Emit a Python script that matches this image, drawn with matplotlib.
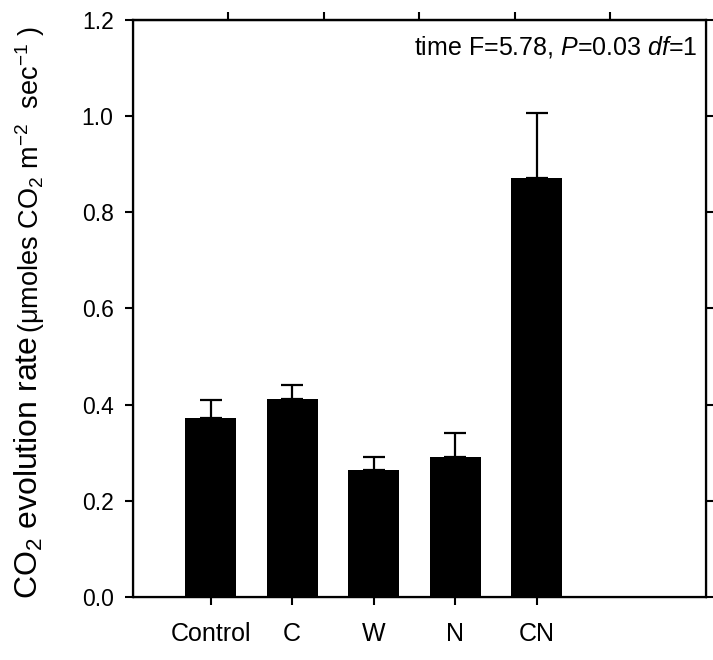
import numpy as np
import matplotlib
matplotlib.use('Agg')
import matplotlib.pyplot as plt

plt.rcParams['font.family'] = ['Liberation Sans', 'DejaVu Sans']
plt.rcParams['mathtext.fontset'] = 'custom'
plt.rcParams['mathtext.rm'] = 'Liberation Sans'
plt.rcParams['mathtext.it'] = 'Liberation Sans:italic'
plt.rcParams['mathtext.default'] = 'regular'

# data
treatments = ['Control', 'C', 'W', 'N', 'CN']
co2_rate = [0.372, 0.412, 0.264, 0.292, 0.871]
co2_se = [0.038, 0.028, 0.026, 0.049, 0.136]
y_ticks = [0.0, 0.2, 0.4, 0.6, 0.8, 1.0, 1.2]

fig = plt.figure(figsize=(7.13, 6.6), dpi=100)
ax = fig.add_axes([0.1865, 0.0955, 0.8035, 0.8745])

x = np.arange(len(treatments))
ax.bar(x, co2_rate, width=0.625, color='black', zorder=2)
ax.errorbar(x, co2_rate, yerr=[np.zeros(len(co2_se)), co2_se], fmt='none',
            ecolor='black', elinewidth=1.6, capsize=8, capthick=1.6, zorder=1)

ax.set_xlim(-0.95, 6.07)
ax.set_ylim(0, 1.2)
ax.set_xticks(x)
ax.set_xticklabels(treatments, fontsize=18)
ax.set_yticks(y_ticks)
ax.set_yticklabels(['%.1f' % v for v in y_ticks], fontsize=16.5)
ax.tick_params(direction='out', length=6, width=1.5, pad=8)
ax.tick_params(axis='x', pad=12)
for s in ax.spines.values():
    s.set_linewidth(1.6)

# mirrored ticks on top (evenly spaced) and right
ax_top = ax.twiny()
ax_top.set_xlim(0, 6)
ax_top.set_xticks([1, 2, 3, 4, 5])
ax_top.tick_params(axis='x', direction='out', length=6, width=1.5, labeltop=False)
ax_top.spines['top'].set_linewidth(1.6)
ax_right = ax.twinx()
ax_right.set_ylim(0, 1.2)
ax_right.set_yticks(y_ticks)
ax_right.tick_params(axis='y', direction='out', length=6, width=1.5, labelright=False)

ax.text(0.986, 0.975, r'time F=5.78, $\mathit{P}$=0.03 $\mathit{df}$=1',
        transform=ax.transAxes, ha='right', va='top', fontsize=18)

# y label in two sizes
renderer = fig.canvas.get_renderer()
lab1 = fig.text(0.040, 0.093, r'CO$_2$ evolution rate', rotation=90,
                ha='center', va='bottom', fontsize=23)
bb = lab1.get_window_extent(renderer).transformed(fig.transFigure.inverted())
fig.text(0.042, bb.y1 + 0.004, r'($\mu$moles CO$_2$ m$^{-2}$  sec$^{-1}$ )', rotation=90,
         ha='center', va='bottom', fontsize=19.5)

fig.savefig('out.png', dpi=100)
